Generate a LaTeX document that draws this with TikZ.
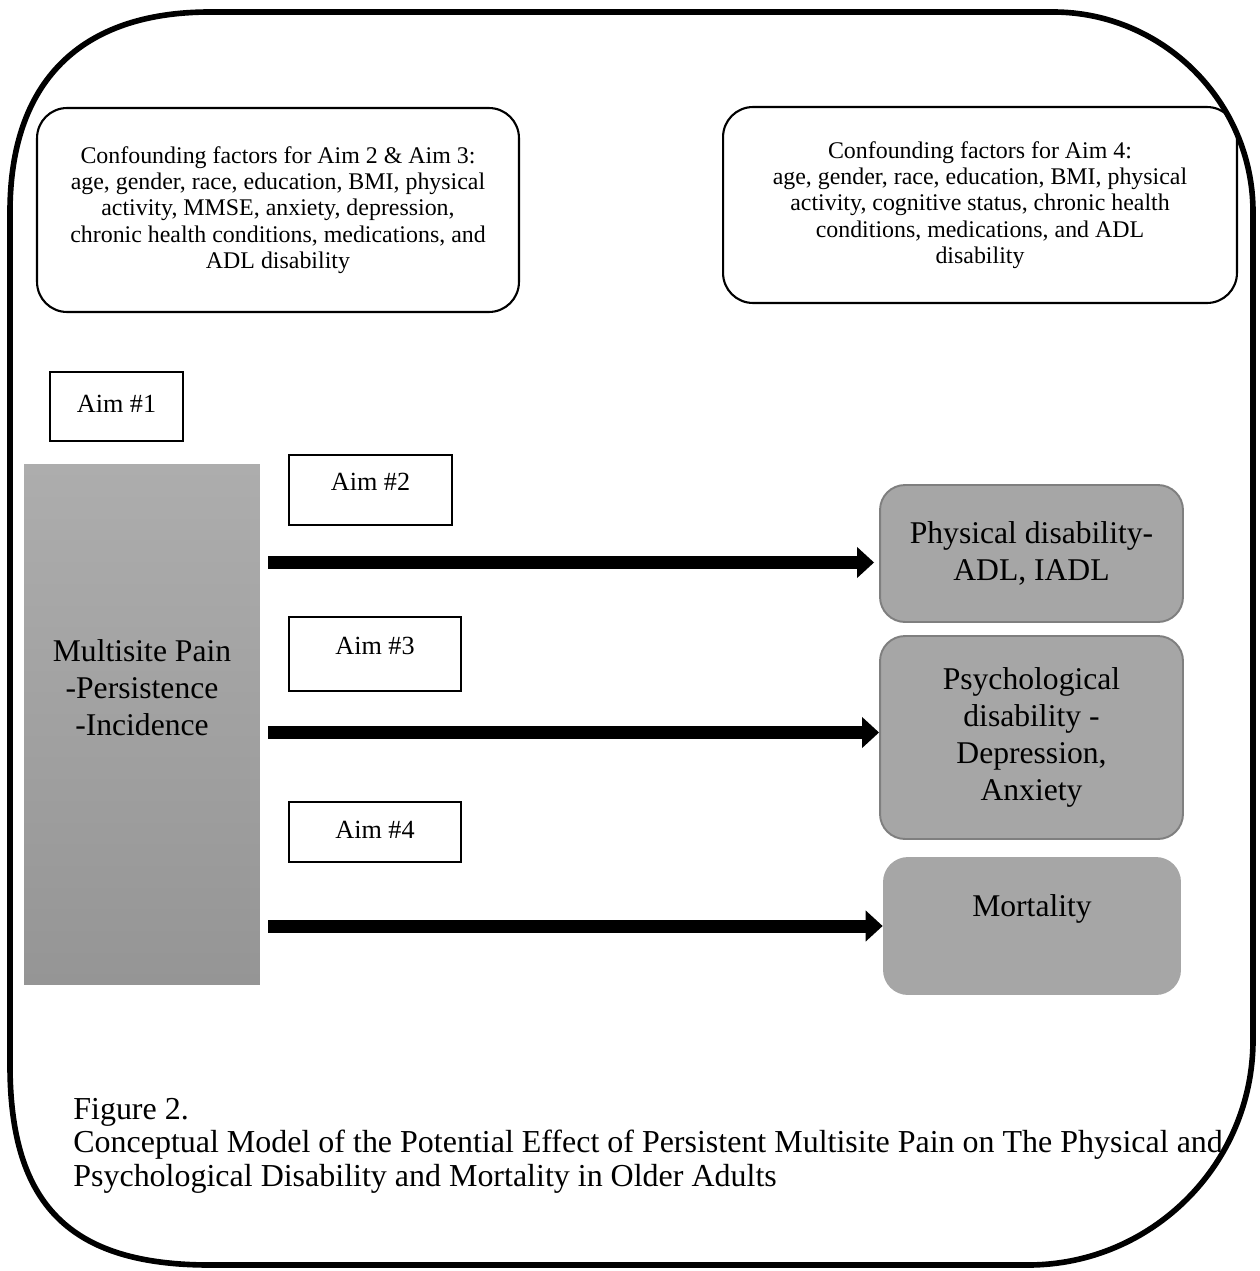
\documentclass[tikz,border=0pt]{standalone}
\usepackage{fontspec}
\setmainfont{Liberation Serif}
\usepackage{xcolor}
\usetikzlibrary{arrows.meta,positioning}

\definecolor{outfill}{HTML}{A6A6A6}
\definecolor{outline}{HTML}{7F7F7F}
\definecolor{paintop}{HTML}{ADADAD}
\definecolor{painbot}{HTML}{959595}

\begin{document}
\begin{tikzpicture}[
    x=0.02cm, y=-0.02cm,
    frame/.style={
        line width=3.2pt
    },
    confbox/.style={
        draw,
        line width=1.2pt,
        rounded corners=0.6cm,
        align=center,
        inner sep=0pt,
        font=\fontsize{13.6}{15}\selectfont
    },
    aimbox/.style={
        draw,
        line width=1.1pt,
        align=center,
        inner sep=0pt,
        text height=0.36cm,
        text depth=0.36cm,
        font=\fontsize{14.9}{17}\selectfont
    },
    outbox/.style={
        fill=outfill,
        rounded corners=0.5cm,
        align=center,
        inner sep=0pt,
        minimum width=6.06cm,
        font=\fontsize{18}{21}\selectfont
    },
    bar/.style={
        line width=0.26cm,
        -{Triangle[width=0.6cm,length=0.34cm]},
        shorten <=0.16cm
    }
]
\useasboundingbox (0,0) rectangle (1259,1271);

% Outer frame
\draw[frame] (210,12) -- (1053,12)
    .. controls (1163,12) and (1253,102) .. (1253,212) -- (1253,1040)
    .. controls (1253,1164) and (1152,1265) .. (1028,1265) -- (210,1265)
    .. controls (70,1265) and (10,1205) .. (10,1065) -- (10,212)
    .. controls (10,82) and (80,12) .. cycle;

% Confounding factors
\node[confbox, minimum width=9.64cm, minimum height=4.08cm] (conf23) at (278,210)
{Confounding factors for Aim 2 \& Aim 3:\\
age, gender, race, education, BMI, physical\\
activity, MMSE, anxiety, depression,\\
chronic health conditions, medications, and\\
ADL disability};

\node[confbox, minimum width=10.28cm, minimum height=3.92cm] (conf4) at (980,205)
{Confounding factors for Aim 4:\\
age, gender, race, education, BMI, physical\\
activity, cognitive status, chronic health\\
conditions, medications, and ADL\\
disability};

% Aim labels
\node[aimbox, text depth=0.14cm, minimum width=2.66cm, minimum height=1.38cm] (aim1) at (116.5,406.5) {Aim \#1};
\node[aimbox, minimum width=3.26cm, minimum height=1.40cm] (aim2) at (370.5,490) {Aim \#2};
\node[aimbox, minimum width=3.44cm, minimum height=1.48cm] (aim3) at (375,654) {Aim \#3};
\node[aimbox, text depth=0.12cm, minimum width=3.44cm, minimum height=1.20cm] (aim4) at (375,832) {Aim \#4};

% Exposure
\node[top color=paintop, bottom color=painbot, minimum width=4.72cm,
    minimum height=10.42cm, inner sep=0pt] (pain) at (142,724.5) {};
\node[align=center, font=\fontsize{18}{21}\selectfont] (paintext) at (142,688)
{Multisite Pain\\-Persistence\\-Incidence};

% Outcomes
\node[outbox, draw=outline, line width=1.1pt, minimum height=2.74cm] (phys) at (1031.5,553.5)
{Physical disability-\\ADL, IADL};
\node[outbox, draw=outline, line width=1.1pt, minimum height=4.06cm] (psych) at (1031.5,737.5)
{Psychological\\disability -\\Depression,\\Anxiety};
\node[outbox, minimum width=5.96cm, minimum height=2.76cm] (mort) at (1032,926) {};
\node[font=\fontsize{18}{21}\selectfont] (morttext) at (1032,909) {Mortality};

% Arrows
\draw[bar, shorten >=0.1cm] ([yshift=-0.18cm]pain.east |- phys.west) -- ([yshift=-0.18cm]phys.west);
\draw[bar] ([yshift=0.1cm]pain.east |- psych.west) -- ([yshift=0.1cm]psych.west);
\draw[bar] (pain.east |- mort.west) -- (mort.west);

% Caption
\node[anchor=north west, align=left, inner sep=0pt,
    font=\fontsize{18.2}{19}\selectfont] (caption) at (73,1098)
{Figure 2.\\
Conceptual Model of the Potential Effect of Persistent Multisite Pain on The Physical and\\
Psychological Disability and Mortality in Older Adults};

\end{tikzpicture}
\end{document}
